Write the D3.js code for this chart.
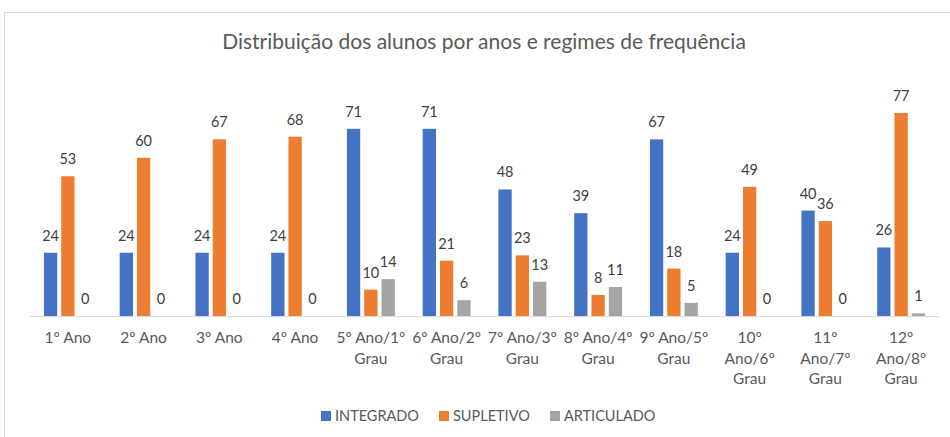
<!DOCTYPE html>
<html>
<head>
<meta charset="utf-8">
<script src="https://cdn.jsdelivr.net/npm/d3@7"></script>
<style>
    body { margin: 0; background: #fff; }
    svg { display: block; font-family: Lato, "Open Sans", sans-serif; }
</style>
</head>
<body>
<svg id="chart" width="950" height="437"></svg>
<script>
// data
const categories = ["1º Ano", "2º Ano", "3º Ano", "4º Ano", "5º Ano/1º Grau", "6º Ano/2º Grau",
    "7º Ano/3º Grau", "8º Ano/4º Grau", "9º Ano/5º Grau", "10º Ano/6º Grau", "11º Ano/7º Grau", "12º Ano/8º Grau"];
// tick labels as they wrap in the picture
const categoryLines = [
    ["1º Ano"], ["2º Ano"], ["3º Ano"], ["4º Ano"],
    ["5º Ano/1º", "Grau"], ["6º Ano/2º", "Grau"], ["7º Ano/3º", "Grau"], ["8º Ano/4º", "Grau"],
    ["9º Ano/5º", "Grau"], ["10º", "Ano/6º", "Grau"], ["11º", "Ano/7º", "Grau"], ["12º", "Ano/8º", "Grau"]
];
const seriesNames = ["INTEGRADO", "SUPLETIVO", "ARTICULADO"];
const integrado = [24, 24, 24, 24, 71, 71, 48, 39, 67, 24, 40, 26];
const supletivo = [53, 60, 67, 68, 10, 21, 23, 8, 18, 49, 36, 77];
const articulado = [0, 0, 0, 0, 14, 6, 13, 11, 5, 0, 0, 1];
const seriesColors = ["#4472C4", "#ED7D31", "#A5A5A5"];
const chartTitle = "Distribuição dos alunos por anos e regimes de frequência";

const series = [integrado, supletivo, articulado];

const svg = d3.select("#chart");
const textColor = "#595959";

// outer chart border
svg.append("rect")
    .attr("x", 4.5).attr("y", 12.5)
    .attr("width", 960).attr("height", 460)
    .attr("fill", "none")
    .attr("stroke", "#D9D9D9");

svg.append("text")
    .attr("x", 484).attr("y", 49)
    .attr("text-anchor", "middle")
    .style("font-size", "21px")
    .style("fill", textColor)
    .text(chartTitle);

const x = d3.scaleBand()
    .domain(categories)
    .range([30, 939]);

const barW = 13.3, barGap = 4;
const x1 = d3.scaleBand()
    .domain(seriesNames)
    .range([0, 3 * barW + 2 * barGap]);

const y = d3.scaleLinear()
    .domain([0, 80])
    .range([316, 105.1]);

const groups = svg.selectAll("g.cat")
    .data(categories)
    .enter()
    .append("g")
    .attr("class", "cat")
    .attr("transform", d => `translate(${x(d) + (x.bandwidth() - x1.range()[1]) / 2},0)`);

groups.each(function (cat, i) {
    const g = d3.select(this);
    seriesNames.forEach((name, s) => {
        const v = series[s][i];
        const bx = s * (barW + barGap);
        g.append("rect")
            .attr("x", bx)
            .attr("y", y(v))
            .attr("width", barW)
            .attr("height", y(0) - y(v))
            .attr("fill", seriesColors[s]);
        g.append("text")
            .attr("x", bx + barW / 2)
            .attr("y", y(v) - 12)
            .attr("text-anchor", "middle")
            .style("font-size", "14.5px")
            .style("fill", "#404040")
            .text(v);
    });
});

// category axis
const axis = svg.append("g")
    .attr("transform", `translate(0,${y(0)})`)
    .call(d3.axisBottom(x).tickSize(0).tickFormat(""));
axis.select(".domain").attr("stroke", "#D9D9D9").attr("d", "M30,0.5H939");

categories.forEach((c, i) => {
    const t = svg.append("text")
        .attr("x", x(c) + x.bandwidth() / 2)
        .attr("text-anchor", "middle")
        .style("font-size", "15.5px")
        .style("fill", textColor);
    categoryLines[i].forEach((line, k) => {
        t.append("tspan")
            .attr("x", x(c) + x.bandwidth() / 2)
            .attr("y", 343 + k * 20.5)
            .text(line);
    });
});

// legend
const legendX = [321, 439, 550];
const legend = svg.selectAll("g.legend")
    .data(seriesNames)
    .enter()
    .append("g")
    .attr("class", "legend")
    .attr("transform", (d, i) => `translate(${legendX[i]},411)`);
legend.append("rect")
    .attr("width", 10).attr("height", 10)
    .attr("fill", (d, i) => seriesColors[i]);
legend.append("text")
    .attr("x", 14).attr("y", 10)
    .style("font-size", "14.5px")
    .style("fill", textColor)
    .text(d => d);
</script>
</body>
</html>
